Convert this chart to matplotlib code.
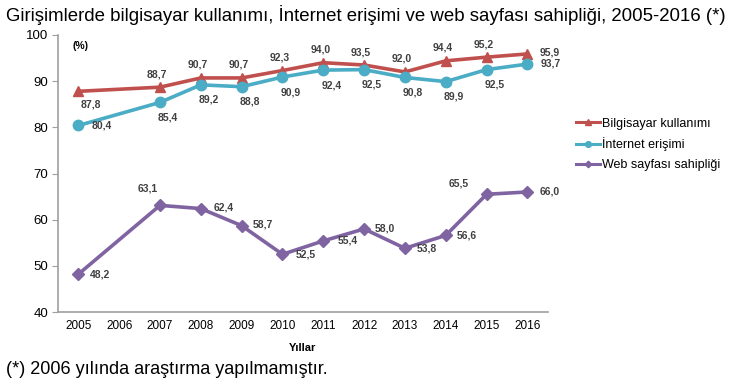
import numpy as np
import matplotlib.pyplot as plt

plt.rcParams['font.family'] = ['Liberation Sans', 'DejaVu Sans']

# veriler
years = ['2005', '2006', '2007', '2008', '2009', '2010', '2011', '2012', '2013', '2014', '2015', '2016']
bilgisayar = [87.8, None, 88.7, 90.7, 90.7, 92.3, 94.0, 93.5, 92.0, 94.4, 95.2, 95.9]
internet = [80.4, None, 85.4, 89.2, 88.8, 90.9, 92.4, 92.5, 90.8, 89.9, 92.5, 93.7]
web = [48.2, None, 63.1, 62.4, 58.7, 52.5, 55.4, 58.0, 53.8, 56.6, 65.5, 66.0]
series_names = ['Bilgisayar kullanımı', 'İnternet erişimi', 'Web sayfası sahipliği']

title = 'Girişimlerde bilgisayar kullanımı, İnternet erişimi ve web sayfası sahipliği, 2005-2016 (*)'
footnote = '(*) 2006 yılında araştırma yapılmamıştır.'

colors = ['#C0504D', '#4BACC6', '#8064A2']
markers = ['^', 'o', 'D']
msizes = [7.5, 7.5, 6]

# etiket kaydırmaları (piksel, yukarı pozitif)
off_b = [(12, -13)] + [(-3, 13)] * 9 + [(22, 1)]
off_i = [(23, 0)] + [(8, -15)] * 9 + [(23, 1)]
off_w = [(22, 0), (-12, 17), (23, 1), (21, 1), (23, 0), (24, 0),
         (21, 0), (22, 0), (21, 0), (-28, 11), (22, 0)]

fig = plt.figure(figsize=(7.49, 3.91), dpi=100)
ax = fig.add_axes([0.0774, 0.202, 0.654, 0.7085])

x_all = np.arange(len(years))
all_offsets = [off_b, off_i, off_w]
for k, vals in enumerate([bilgisayar, internet, web]):
    xs = [x for x, v in zip(x_all, vals) if v is not None]
    ys = [v for v in vals if v is not None]
    ax.plot(xs, ys, color=colors[k], lw=2.6, marker=markers[k], ms=msizes[k],
            label=series_names[k], zorder=3)
    for (x, y), (dx, dy) in zip(zip(xs, ys), all_offsets[k]):
        ax.annotate(f'{y:.1f}'.replace('.', ','), (x, y), xytext=(dx * 0.72, dy * 0.72),
                    textcoords='offset points', ha='center', va='center',
                    fontsize=7.5, fontweight='bold', color='#404040')

ax.set_xlim(-0.5, len(years) - 0.5)
ax.set_ylim(40, 100)
ax.set_xticks(x_all)
ax.set_xticklabels(years, fontsize=8.5)
ax.set_yticks(np.arange(40, 101, 10))
ax.tick_params(axis='y', labelsize=9.5, length=4, color='#A0A0A0', pad=3)
ax.tick_params(axis='x', length=0, pad=6)
for s in ['top', 'right']:
    ax.spines[s].set_visible(False)
for s in ['left', 'bottom']:
    ax.spines[s].set_color('#A0A0A0')
    ax.spines[s].set_linewidth(1.2)

ax.set_xlabel('Yıllar', fontsize=8, fontweight='bold', labelpad=8)
ax.text(0.03, 0.96, '(%)', transform=ax.transAxes, fontsize=7.5, fontweight='bold',
        va='center', ha='left')

leg = ax.legend(loc='upper left', bbox_to_anchor=(1.048, 0.72), frameon=False,
                fontsize=9, handlelength=1.9, handletextpad=0.15, labelspacing=0.62,
                markerscale=0.55, borderaxespad=0)
for h in leg.get_lines():
    h.set_linewidth(2.2)

fig.text(0.008, 0.962, title, fontsize=13.4, ha='left', va='center')
fig.text(0.008, 0.055, footnote, fontsize=13, ha='left', va='center')

fig.savefig('out.png', dpi=100)
